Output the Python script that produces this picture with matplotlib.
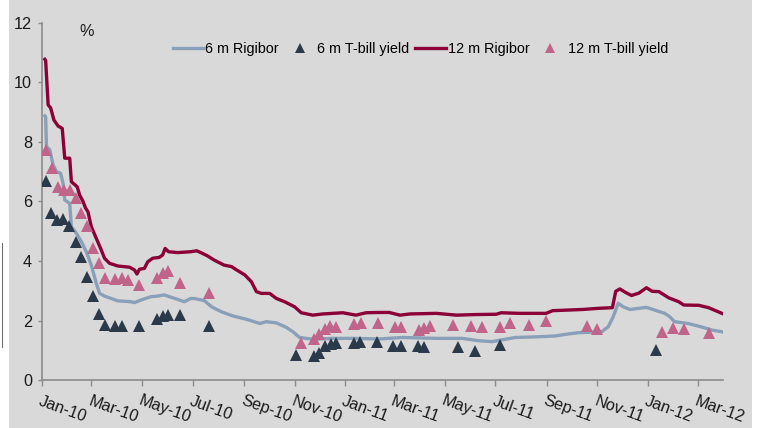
import matplotlib
matplotlib.use("Agg")
import matplotlib.pyplot as plt
import matplotlib.dates as mdates
import pandas as pd
from matplotlib.lines import Line2D
from matplotlib.patches import Rectangle

plt.rcParams["font.family"] = ["Liberation Sans", "DejaVu Sans"]

# 12 m Rigibor, %
rig12_dates = [
    "2010-01-04", "2010-01-05", "2010-01-08", "2010-01-11", "2010-01-15", "2010-01-20",
    "2010-01-25", "2010-01-28", "2010-02-03", "2010-02-05", "2010-02-12", "2010-02-15",
    "2010-02-19", "2010-02-22", "2010-02-25", "2010-03-01", "2010-03-07", "2010-03-13",
    "2010-03-17", "2010-03-23", "2010-04-02", "2010-04-16", "2010-04-22", "2010-04-25",
    "2010-04-28", "2010-05-04", "2010-05-08", "2010-05-14", "2010-05-22", "2010-05-26",
    "2010-05-29", "2010-06-02", "2010-06-13", "2010-06-29", "2010-07-06", "2010-07-11",
    "2010-07-19", "2010-07-27", "2010-08-08", "2010-08-17", "2010-08-23", "2010-09-02",
    "2010-09-10", "2010-09-16", "2010-09-22", "2010-10-02", "2010-10-10", "2010-10-20",
    "2010-11-01", "2010-11-09", "2010-11-23", "2010-12-05", "2010-12-29", "2011-01-14",
    "2011-01-26", "2011-02-11", "2011-02-23", "2011-03-08", "2011-03-20", "2011-04-21",
    "2011-05-15", "2011-06-08", "2011-07-02", "2011-07-08", "2011-07-30", "2011-08-31",
    "2011-09-08", "2011-10-14", "2011-11-03", "2011-11-19", "2011-11-23", "2011-11-28",
    "2011-12-05", "2011-12-12", "2011-12-21", "2011-12-30", "2012-01-06", "2012-01-14",
    "2012-01-26", "2012-02-07", "2012-02-13", "2012-03-02", "2012-03-14", "2012-03-30",
]
rig12 = [
    10.77, 10.73, 9.24, 9.14, 8.73, 8.53,
    8.45, 7.45, 7.45, 6.66, 6.49, 6.21,
    6.00, 5.78, 5.65, 5.15, 4.76, 4.37,
    4.09, 3.92, 3.83, 3.79, 3.70, 3.56,
    3.72, 3.75, 3.97, 4.09, 4.12, 4.20,
    4.42, 4.31, 4.28, 4.31, 4.34, 4.28,
    4.17, 4.03, 3.86, 3.81, 3.70, 3.53,
    3.30, 2.97, 2.91, 2.91, 2.74, 2.63,
    2.46, 2.26, 2.18, 2.22, 2.26, 2.18,
    2.26, 2.27, 2.27, 2.18, 2.22, 2.24,
    2.18, 2.20, 2.21, 2.26, 2.24, 2.24,
    2.33, 2.37, 2.41, 2.43, 2.98, 3.06,
    2.94, 2.84, 2.92, 3.10, 2.98, 2.97,
    2.76, 2.63, 2.52, 2.51, 2.43, 2.24,
]

# 6 m Rigibor, %
rig6_dates = [
    "2010-01-04", "2010-01-05", "2010-01-06", "2010-01-10", "2010-01-14", "2010-01-18",
    "2010-01-23", "2010-01-26", "2010-01-28", "2010-02-03", "2010-02-05", "2010-02-11",
    "2010-02-17", "2010-02-23", "2010-03-01", "2010-03-07", "2010-03-11", "2010-03-17",
    "2010-03-25", "2010-04-02", "2010-04-18", "2010-04-22", "2010-04-30", "2010-05-12",
    "2010-05-20", "2010-05-28", "2010-06-03", "2010-06-13", "2010-06-21", "2010-06-29",
    "2010-07-03", "2010-07-15", "2010-07-24", "2010-08-05", "2010-08-19", "2010-09-04",
    "2010-09-20", "2010-09-28", "2010-10-10", "2010-10-22", "2010-10-30", "2010-11-07",
    "2010-11-23", "2010-12-17", "2011-01-10", "2011-02-11", "2011-03-11", "2011-04-21",
    "2011-05-22", "2011-06-11", "2011-06-27", "2011-07-13", "2011-07-25", "2011-08-18",
    "2011-09-11", "2011-09-27", "2011-10-09", "2011-11-06", "2011-11-14", "2011-11-20",
    "2011-11-26", "2011-12-02", "2011-12-10", "2011-12-30", "2012-01-09", "2012-01-21",
    "2012-01-27", "2012-02-02", "2012-02-18", "2012-03-02", "2012-03-18", "2012-03-30",
]
rig6 = [
    8.87, 8.84, 7.84, 7.73, 7.22, 7.00,
    6.94, 6.61, 6.05, 5.93, 5.15, 4.93,
    4.65, 4.31, 3.86, 3.25, 2.91, 2.82,
    2.74, 2.66, 2.63, 2.60, 2.69, 2.80,
    2.82, 2.86, 2.80, 2.71, 2.63, 2.74,
    2.74, 2.67, 2.46, 2.29, 2.15, 2.04,
    1.90, 1.96, 1.92, 1.77, 1.62, 1.43,
    1.37, 1.40, 1.40, 1.38, 1.43, 1.40,
    1.40, 1.32, 1.29, 1.37, 1.43, 1.45,
    1.48, 1.55, 1.59, 1.62, 1.79, 2.13,
    2.58, 2.46, 2.37, 2.44, 2.35, 2.24,
    2.13, 1.96, 1.90, 1.81, 1.68, 1.62,
]

# 6 m T-bill auction yields, %
tb6_dates = [
    "2010-01-06", "2010-01-12", "2010-01-19", "2010-01-26", "2010-02-02", "2010-02-10",
    "2010-02-17", "2010-02-24", "2010-03-03", "2010-03-10", "2010-03-17", "2010-03-29",
    "2010-04-07", "2010-04-28", "2010-05-19", "2010-05-26", "2010-06-02", "2010-06-16",
    "2010-07-21", "2010-11-03", "2010-11-24", "2010-12-01", "2010-12-08", "2010-12-15",
    "2010-12-21", "2011-01-12", "2011-01-19", "2011-02-08", "2011-02-28", "2011-03-09",
    "2011-03-30", "2011-04-06", "2011-05-17", "2011-06-07", "2011-07-06", "2012-01-10",
]
tb6 = [
    6.68, 5.60, 5.37, 5.42, 5.18, 4.63,
    4.14, 3.45, 2.82, 2.21, 1.85, 1.80,
    1.80, 1.83, 2.04, 2.14, 2.17, 2.18,
    1.80, 0.84, 0.82, 0.90, 1.13, 1.21,
    1.25, 1.25, 1.27, 1.27, 1.16, 1.13,
    1.13, 1.11, 1.10, 0.96, 1.18, 1.01,
]

# 12 m T-bill auction yields, %
tb12_dates = [
    "2010-01-06", "2010-01-13", "2010-01-20", "2010-01-27", "2010-02-03", "2010-02-10",
    "2010-02-17", "2010-02-24", "2010-03-03", "2010-03-10", "2010-03-17", "2010-03-30",
    "2010-04-07", "2010-04-14", "2010-04-28", "2010-05-19", "2010-05-26", "2010-06-02",
    "2010-06-16", "2010-07-21", "2010-11-09", "2010-11-24", "2010-12-01", "2010-12-08",
    "2010-12-14", "2010-12-21", "2011-01-12", "2011-01-20", "2011-02-09", "2011-03-02",
    "2011-03-09", "2011-03-31", "2011-04-06", "2011-04-13", "2011-05-11", "2011-06-01",
    "2011-06-15", "2011-07-06", "2011-07-19", "2011-08-11", "2011-08-31", "2011-10-19",
    "2011-11-01", "2012-01-18", "2012-01-31", "2012-02-13", "2012-03-14",
]
tb12 = [
    7.73, 7.11, 6.49, 6.38, 6.38, 6.10,
    5.62, 5.17, 4.42, 3.92, 3.42, 3.38,
    3.42, 3.36, 3.19, 3.42, 3.58, 3.67,
    3.27, 2.91, 1.23, 1.37, 1.56, 1.73,
    1.83, 1.79, 1.88, 1.90, 1.91, 1.79,
    1.79, 1.68, 1.74, 1.81, 1.86, 1.81,
    1.77, 1.78, 1.90, 1.85, 1.98, 1.81,
    1.72, 1.62, 1.74, 1.70, 1.59,
]

blue = "#8aa0b9"
maroon = "#8b0036"
navy = "#2b3a4a"
pink = "#c0648a"
axis_grey = "#8c8c8c"

fig = plt.figure(figsize=(7.6, 4.28), dpi=100)
fig.patch.set_facecolor("white")
fig.patches.append(Rectangle((9 / 760, 0), 743 / 760, 1, transform=fig.transFigure,
                             facecolor="#d9d9d9", edgecolor="none", zorder=-10))
fig.lines.append(Line2D([2 / 760, 2 / 760], [1 - 243 / 428, 1 - 347 / 428],
                        transform=fig.transFigure, color="#707070", lw=0.8))

ax = fig.add_axes([0.0557, 0.112, 0.8953, 0.835])
ax.set_facecolor("none")

l6, = ax.plot(pd.to_datetime(rig6_dates), rig6, color=blue, lw=2.4, zorder=2)
l12, = ax.plot(pd.to_datetime(rig12_dates), rig12, color=maroon, lw=2.4, zorder=2)
m12, = ax.plot(pd.to_datetime(tb12_dates), tb12, ls="none", marker="^", ms=9,
               color=pink, mew=0, zorder=3)
m6, = ax.plot(pd.to_datetime(tb6_dates), tb6, ls="none", marker="^", ms=9,
              color=navy, mew=0, zorder=4)

ax.set_ylim(0, 12)
ax.set_yticks(range(0, 13, 2))
ax.set_xlim(pd.Timestamp("2010-01-01"), pd.Timestamp("2012-03-31"))
ax.xaxis.set_major_locator(mdates.MonthLocator(bymonth=[1, 3, 5, 7, 9, 11]))
ax.xaxis.set_major_formatter(mdates.DateFormatter("%b-%y"))

for side in ["top", "right"]:
    ax.spines[side].set_visible(False)
for side in ["left", "bottom"]:
    ax.spines[side].set_color(axis_grey)
    ax.spines[side].set_linewidth(1.2)

ax.tick_params(axis="y", direction="out", length=3, width=1, color=axis_grey,
               labelsize=11.7, pad=4.5, labelcolor="#1a1a1a")
ax.tick_params(axis="x", direction="out", length=4, width=1, color=axis_grey,
               labelsize=11.7, pad=5.5, labelcolor="#1a1a1a")
plt.setp(ax.get_xticklabels(), rotation=-20, ha="left", va="top",
         rotation_mode="anchor")

ax.text(0.065, 0.975, "%", transform=ax.transAxes, fontsize=11.7,
        color="#1a1a1a", ha="center", va="center")

ax.legend([l6, m6, l12, m12],
          ["6 m Rigibor", "6 m T-bill yield", "12 m Rigibor", "12 m T-bill yield"],
          loc="center left", bbox_to_anchor=(0.192, 0.926), ncol=4, frameon=False,
          fontsize=10.4, handlelength=2.1, handletextpad=0.15, columnspacing=0.4,
          borderpad=0, borderaxespad=0, markerscale=0.8)

fig.savefig("out.png", dpi=100)
